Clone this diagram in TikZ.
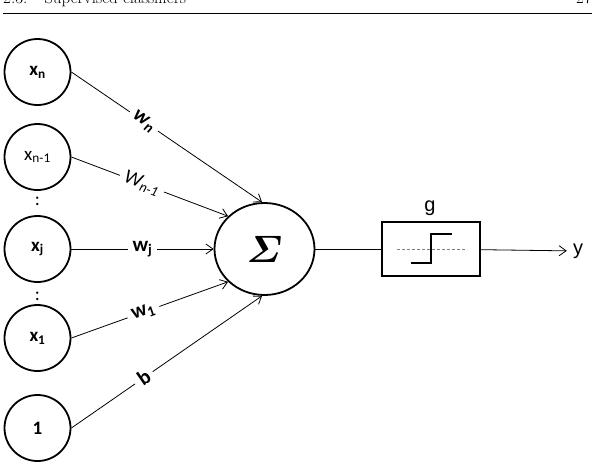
\RequirePackage{fix-cm}
\documentclass[tikz,border=0pt]{standalone}
\usepackage{amsmath}
\usepackage{fontspec}
\newfontfamily\lblfont{Carlito}
\newfontfamily\arialfont{Liberation Sans}
\usetikzlibrary{arrows.meta,positioning,shapes.geometric}

\begin{document}
\begin{tikzpicture}[
  x=1pt, y=-1pt,
  font=\lblfont\fontsize{19}{21}\selectfont,
  input/.style={draw, circle, line width=1.8pt, minimum size=66pt, inner sep=0pt},
  weight/.style={fill=white, inner sep=5pt, sloped, font=\lblfont\fontsize{21}{23}\selectfont\bfseries},
  sumnode/.style={draw, ellipse, line width=1.8pt, minimum width=100pt, minimum height=92pt},
  actbox/.style={draw, line width=1.8pt, minimum width=98pt, minimum height=54pt},
  sanslabel/.style={font=\arialfont\fontsize{20}{21}\selectfont, inner sep=1pt},
  arrow/.style={-{Straight Barb[length=7pt,width=10pt]}, line width=0.8pt},
  plain/.style={line width=0.8pt}
]
\useasboundingbox (0,0) rectangle (603,467);

% running header
\node[anchor=base west, inner sep=0pt, font=\rmfamily\fontsize{17}{17}\selectfont] (header) at (3,3) {2.3.\quad Supervised classifiers};
\node[anchor=base east, inner sep=0pt, font=\rmfamily\fontsize{17}{17}\selectfont] (pagenum) at (592,3) {27};
\draw[line width=0.8pt] (3,13) -- (592,13);

% inputs
\node[input] (xn) at (37.5,72) {\bfseries x\textsubscript{n}};
\node[input] (xnm) at (37.5,157) {x\textsubscript{n-1}};
\node (dotsa) at (37.5,201) {:};
\node[input] (xj) at (37.5,249) {\bfseries x\textsubscript{j}};
\node (dotsb) at (37.5,296) {:};
\node[input] (xone) at (37.5,338) {\bfseries x\textsubscript{1}};
\node[input] (bias) at (37.5,428) {\bfseries 1};

% summation and activation
\node[sumnode] (sum) at (264.5,249) {\fontsize{38}{40}\selectfont$\boldsymbol{\varSigma}$};
\node[actbox] (act) at (431,249) {};
\node[sanslabel] (glabel) at (430,208) {g};
\node[sanslabel, inner sep=6pt] (y) at (578,251) {y};

% step function inside the box
\draw[densely dashed, gray, line width=0.5pt] (397,249) -- (467,249);
\draw[line width=1.2pt] (411,263) -- (431,263) -- (431,234) -- (452,234);

% weighted connections
\draw[arrow] (xn.east) -- (sum.93) node[weight, pos=0.38] {\itshape w\textsubscript{n}};
\draw[arrow] (xnm.east) -- (sum.138) node[weight, pos=0.45, font=\lblfont\fontsize{20}{22}\selectfont\itshape] {W\textsubscript{n-1}};
\draw[arrow] (xj.east) -- (sum.west) node[weight, pos=0.5] {w\textsubscript{j}};
\draw[arrow] (xone.east) -- (sum.222) node[weight, pos=0.46] {w\textsubscript{1}};
\draw[arrow] (bias.east) -- (sum.267) node[weight, pos=0.38] {b};

% output
\draw[plain] (sum) -- (act);
\draw[arrow] (act) -- (y);
\end{tikzpicture}
\end{document}
